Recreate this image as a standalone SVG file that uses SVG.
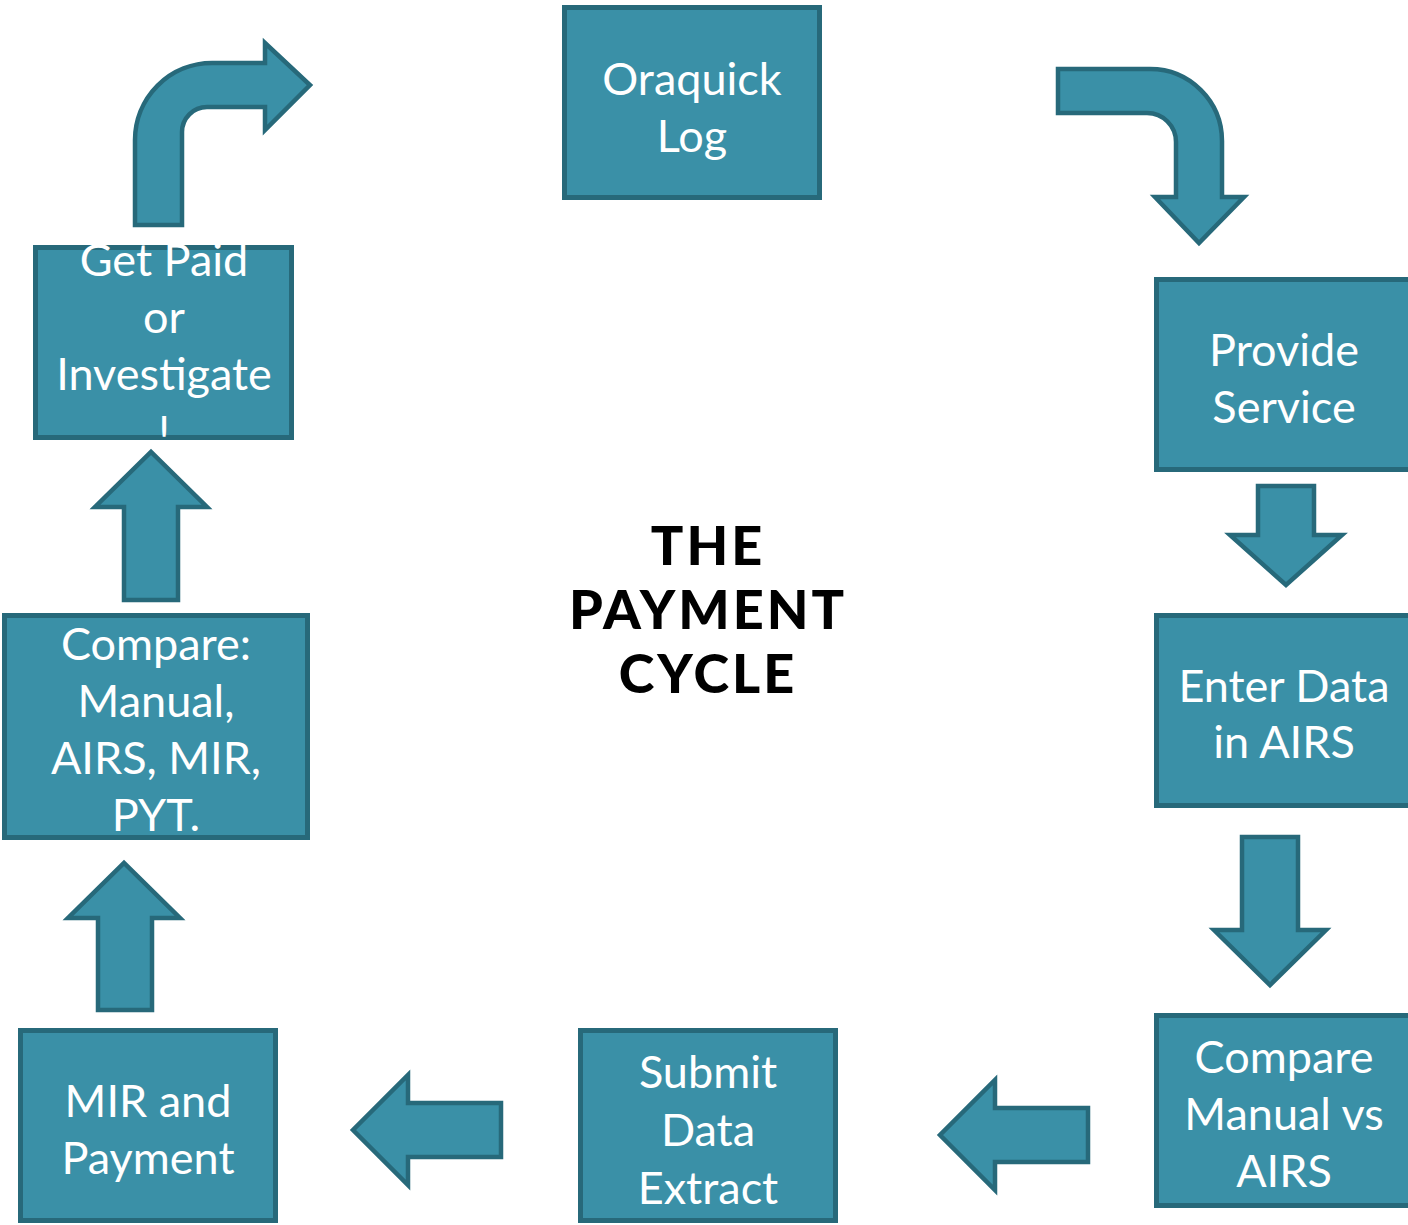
<svg xmlns="http://www.w3.org/2000/svg" width="1408" height="1225" viewBox="0 0 1408 1225">
<style>
.box{fill:#3A90A7;stroke:#27697A;stroke-width:5}
.arr{fill:#3A90A7;stroke:#27697A;stroke-width:4.5;stroke-linejoin:miter}
.t{font-family:Lato,"Open Sans","Liberation Sans",sans-serif;font-size:45px;fill:#fff;text-anchor:middle}
.title{font-family:Lato,"Liberation Sans",sans-serif;font-weight:900;font-size:54px;fill:#000;text-anchor:middle;letter-spacing:3px}
</style>
<defs>
<clipPath id="cGet"><rect x="33" y="245" width="261" height="195"/></clipPath>
</defs>
<rect width="1408" height="1225" fill="#fff"/>
<g id="connectors">
<path class="arr" d="M135,225 L135,140 A77,77 0 0 1 212,63 L265,63 L265,43 L310,85 L265,130 L265,107 L207,107 A25,25 0 0 0 182,132 L182,225 Z"/>
<path class="arr" d="M1058,69 L1150,69 A72,72 0 0 1 1222,141 L1222,197 L1244,197 L1199,243 L1155,197 L1176,197 L1176,142 A29,29 0 0 0 1147,113 L1058,113 Z"/>
<path class="arr" d="M1258,486 L1314,486 L1314,535 L1342,535 L1286,585 L1230,535 L1258,535 Z"/>
<path class="arr" d="M1242,837 L1298,837 L1298,930 L1326,930 L1270,985 L1214,930 L1242,930 Z"/>
<path class="arr" d="M1088,1108 L1088,1162 L995,1162 L995,1190 L940,1135 L995,1080 L995,1108 Z"/>
<path class="arr" d="M501,1103 L501,1157 L408,1157 L408,1185 L353,1130 L408,1075 L408,1103 Z"/>
<path class="arr" d="M98,1010 L152,1010 L152,918 L180,918 L124,863 L68,918 L98,918 Z"/>
<path class="arr" d="M124,600 L178,600 L178,507 L207,507 L151,452 L95,507 L124,507 Z"/>
</g>
<g id="oraquick">
<rect class="box" x="564.5" y="7.5" width="255" height="190"/>
<text class="t" x="692" y="95">Oraquick</text>
<text class="t" x="692" y="152">Log</text>
</g>
<g id="provide">
<rect class="box" x="1156.5" y="279.5" width="255" height="190"/>
<text class="t" x="1284" y="366">Provide</text>
<text class="t" x="1284" y="423">Service</text>
</g>
<g id="enter">
<rect class="box" x="1156.5" y="615.5" width="255" height="190"/>
<text class="t" x="1284" y="702">Enter Data</text>
<text class="t" x="1284" y="758">in AIRS</text>
</g>
<g id="comparemanual">
<rect class="box" x="1156.5" y="1015.5" width="255" height="190"/>
<text class="t" x="1284" y="1073">Compare</text>
<text class="t" x="1284" y="1130">Manual vs</text>
<text class="t" x="1284" y="1187">AIRS</text>
</g>
<g id="submit">
<rect class="box" x="580.5" y="1030.5" width="255" height="190"/>
<text class="t" x="708" y="1088">Submit</text>
<text class="t" x="708" y="1146">Data</text>
<text class="t" x="708" y="1204">Extract</text>
</g>
<g id="mir">
<rect class="box" x="20.5" y="1030.5" width="255" height="190"/>
<text class="t" x="148" y="1117">MIR and</text>
<text class="t" x="148" y="1174">Payment</text>
</g>
<g id="compareall">
<rect class="box" x="4.5" y="615.5" width="303" height="222"/>
<text class="t" x="156" y="660">Compare:</text>
<text class="t" x="156" y="717">Manual,</text>
<text class="t" x="156" y="774">AIRS, MIR,</text>
<text class="t" x="156" y="831">PYT.</text>
</g>
<g id="getpaid">
<rect class="box" x="35.5" y="247.5" width="256" height="190"/>
<g clip-path="url(#cGet)">
<text class="t" x="164" y="276">Get Paid</text>
<text class="t" x="164" y="333">or</text>
<text class="t" x="164" y="390">Investigate</text>
<text class="t" x="164" y="448">!</text>
</g>
</g>
<g id="title">
<text class="title" x="708" y="565">THE</text>
<text class="title" x="708" y="629">PAYMENT</text>
<text class="title" x="708" y="693">CYCLE</text>
</g>
</svg>
